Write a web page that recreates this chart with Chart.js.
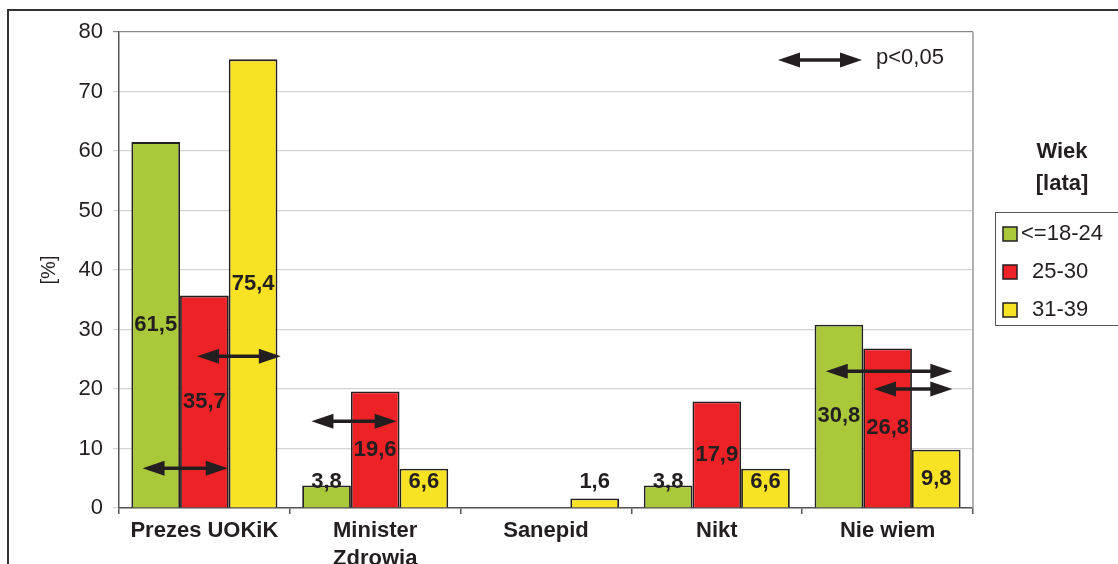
<!DOCTYPE html>
<html>
<head>
<meta charset="utf-8">
<script src="https://cdn.jsdelivr.net/npm/chart.js@4"></script>
<style>
  html,body{margin:0;padding:0;background:#fff;}
  #wrap{width:1118px;height:564px;position:relative;}
</style>
</head>
<body>
<div id="wrap"><canvas id="chart"></canvas></div>
<script>
// ============ DATA ============
const categories = ['Prezes UOKiK', ['Minister', 'Zdrowia'], 'Sanepid', 'Nikt', 'Nie wiem'];
const seriesNames = ['<=18-24', '25-30', '31-39'];
const age18_24 = [61.5, 3.8, 0, 3.8, 30.8];
const age25_30 = [35.7, 19.6, 0, 17.9, 26.8];
const age31_39 = [75.4, 6.6, 1.6, 6.6, 9.8];
const yTicks = [0, 10, 20, 30, 40, 50, 60, 70, 80];
// significance arrows: category index, start/end offset from category centre (in bar widths), y value
const sigArrows = [
  { cat: 0, from: -1.27, to: 0.48, y: 6.7 },
  { cat: 0, from: -0.15, to: 1.57, y: 25.5 },
  { cat: 1, from: -1.31, to: 0.44, y: 14.6 },
  { cat: 4, from: -1.27, to: 1.33, y: 23.0 },
  { cat: 4, from: -0.28, to: 1.33, y: 20.0 }
];

const INK = '#231f20';
const FONT = '"Liberation Sans", Arial, sans-serif';

function fmt(v){ return v.toFixed(1).replace('.', ','); }

function arrow(ctx, x1, x2, y) {
  const head = 22, hw = 7.5;
  ctx.save();
  ctx.fillStyle = INK; ctx.strokeStyle = INK; ctx.lineWidth = 3.5;
  ctx.beginPath(); ctx.moveTo(x1 + head - 2, y); ctx.lineTo(x2 - head + 2, y); ctx.stroke();
  ctx.beginPath(); ctx.moveTo(x1, y); ctx.lineTo(x1 + head, y - hw); ctx.lineTo(x1 + head, y + hw); ctx.closePath(); ctx.fill();
  ctx.beginPath(); ctx.moveTo(x2, y); ctx.lineTo(x2 - head, y - hw); ctx.lineTo(x2 - head, y + hw); ctx.closePath(); ctx.fill();
  ctx.restore();
}

const extras = {
  id: 'extras',
  afterDraw(chart) {
    const ctx = chart.ctx, ca = chart.chartArea;
    const xs = chart.scales.x, ys = chart.scales.y;
    ctx.save();
    // right plot border
    ctx.strokeStyle = '#9a9a9a'; ctx.lineWidth = 1.5;
    ctx.beginPath(); ctx.moveTo(ca.right, ca.top); ctx.lineTo(ca.right, ca.bottom); ctx.stroke();
    // outer frame
    ctx.strokeStyle = '#333'; ctx.lineWidth = 2;
    ctx.beginPath(); ctx.moveTo(8, chart.height + 2); ctx.lineTo(8, 10); ctx.lineTo(chart.width + 2, 10); ctx.stroke();

    // value labels
    ctx.font = 'bold 22px ' + FONT; ctx.fillStyle = INK;
    ctx.textAlign = 'center'; ctx.textBaseline = 'middle';
    chart.data.datasets.forEach((ds, di) => {
      const meta = chart.getDatasetMeta(di);
      ds.data.forEach((v, i) => {
        if (!v) return;
        const bar = meta.data[i];
        const y = Math.min(ys.getPixelForValue(v / 2), ys.getPixelForValue(4.3));
        ctx.fillText(fmt(v), bar.x, y);
      });
    });

    // significance arrows
    const bw = chart.getDatasetMeta(0).data[0].width;
    sigArrows.forEach(a => {
      const cx = xs.getPixelForValue(a.cat);
      arrow(ctx, cx + a.from * bw, cx + a.to * bw, ys.getPixelForValue(a.y));
    });

    // arrow key
    arrow(ctx, 778, 862, 60);
    ctx.font = '22px ' + FONT; ctx.textAlign = 'left';
    ctx.fillText('p<0,05', 876, 58);

    // legend
    ctx.font = 'bold 22px ' + FONT; ctx.textAlign = 'center';
    ctx.fillText('Wiek', 1062, 152);
    ctx.fillText('[lata]', 1062, 184);
    ctx.strokeStyle = '#555'; ctx.lineWidth = 1;
    ctx.strokeRect(995.5, 212.5, 130, 113);
    ctx.font = '22px ' + FONT; ctx.textAlign = 'left';
    chart.data.datasets.forEach((ds, di) => {
      const y = 234 + di * 38;
      ctx.fillStyle = ds.backgroundColor;
      ctx.fillRect(1003, y - 7, 14, 14);
      ctx.strokeStyle = INK; ctx.lineWidth = 1.5;
      ctx.strokeRect(1003, y - 7, 14, 14);
      ctx.fillStyle = INK;
      ctx.fillText(ds.label, di === 0 ? 1021 : 1032, y);
    });
    ctx.restore();
  }
};

const colors = ['#a9c93a', '#ec2227', '#f7e223'];
const seriesData = [age18_24, age25_30, age31_39];

new Chart(document.getElementById('chart'), {
  type: 'bar',
  data: {
    labels: categories,
    datasets: seriesNames.map((n, i) => ({
      label: n, data: seriesData[i], backgroundColor: colors[i],
      borderColor: INK, borderWidth: 1.8,
      categoryPercentage: 0.855, barPercentage: 1.0
    }))
  },
  options: {
    responsive: true, maintainAspectRatio: false, animation: false,
    devicePixelRatio: 1,
    layout: { padding: { top: 32, right: 145, left: 0, bottom: 0 } },
    plugins: { legend: { display: false }, tooltip: { enabled: false } },
    scales: {
      x: {
        grid: { display: true, drawOnChartArea: false, offset: true, tickLength: 6, color: '#555', lineWidth: 1.5 },
        border: { color: '#555', width: 1.5 },
        ticks: { color: INK, font: { family: FONT, size: 22, weight: 'bold', lineHeight: 1.27 }, padding: 3, maxRotation: 0, autoSkip: false },
        afterFit(s) { s.height = 56; }
      },
      y: {
        min: 0, max: 80,
        afterBuildTicks(s) { s.ticks = yTicks.map(v => ({ value: v })); },
        grid: { tickLength: 6, lineWidth: 1.2,
          color: c => c.tick && c.tick.value === 80 ? '#888' : '#d4d4d4' },
        border: { color: '#555', width: 1.5 },
        ticks: { color: INK, font: { family: FONT, size: 22 }, padding: 10 },
        title: { display: true, text: '[%]', color: INK, font: { family: FONT, size: 20 }, padding: { top: 37 } },
        afterFit(s) { s.width = 119; }
      }
    }
  },
  plugins: [extras]
});
</script>
</body>
</html>
